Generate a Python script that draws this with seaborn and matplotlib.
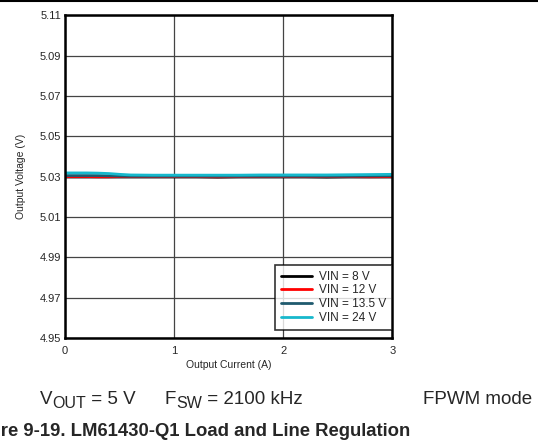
import numpy as np
import pandas as pd
import seaborn as sns
import matplotlib.pyplot as plt

# load current (A)
current = [0.0, 0.1, 0.2, 0.3, 0.4, 0.5, 0.6, 0.8, 1.0, 1.2, 1.4, 1.6, 1.8, 2.0, 2.2, 2.4, 2.6, 2.8, 3.0]
# output voltage (V) per input voltage
v_8 = [5.0298, 5.0298, 5.0298, 5.0298, 5.0298, 5.0298, 5.0298, 5.0298, 5.0298, 5.0298,
       5.0297, 5.0298, 5.0298, 5.0298, 5.0298, 5.0297, 5.0298, 5.0298, 5.0298]
v_12 = [5.0300, 5.0300, 5.0300, 5.0299, 5.0299, 5.0300, 5.0300, 5.0300, 5.0300, 5.0300,
        5.0299, 5.0300, 5.0300, 5.0300, 5.0300, 5.0300, 5.0300, 5.0299, 5.0300]
v_135 = [5.0305, 5.0305, 5.0305, 5.0305, 5.0304, 5.0303, 5.0302, 5.0302, 5.0302, 5.0302,
         5.0302, 5.0302, 5.0302, 5.0302, 5.0302, 5.0302, 5.0302, 5.0303, 5.0304]
v_24 = [5.0318, 5.0318, 5.0318, 5.0317, 5.0315, 5.0311, 5.0308, 5.0307, 5.0307, 5.0307,
        5.0307, 5.0307, 5.0308, 5.0308, 5.0308, 5.0308, 5.0309, 5.0310, 5.0311]
series = ["VIN = 8 V", "VIN = 12 V", "VIN = 13.5 V", "VIN = 24 V"]
colors = ["#000000", "#ff0000", "#1f5a6e", "#17b8cc"]

df = pd.DataFrame({
    "current": current * 4,
    "voltage": v_8 + v_12 + v_135 + v_24,
    "vin": sum([[s] * len(current) for s in series], []),
})

sns.set_style("white")
plt.rcParams['font.family'] = ['Liberation Sans', 'DejaVu Sans']

fig = plt.figure(figsize=(5.38, 4.47), dpi=100)
ax = fig.add_axes([0.121, 0.244, 0.608, 0.722])
sns.lineplot(data=df, x="current", y="voltage", hue="vin", palette=colors,
             hue_order=series, linewidth=2, ax=ax)

ax.set_xlim(0, 3)
ax.set_ylim(4.95, 5.11)
ax.set_xticks([0, 1, 2, 3])
yt = np.arange(4.95, 5.1101, 0.02)
ax.set_yticks(yt)
ax.set_yticklabels([f"{v:.2f}" for v in yt])
ax.grid(True, color="#444444", linewidth=0.9)
ax.tick_params(axis="both", labelsize=8, length=0, pad=3)
ax.tick_params(axis="x", pad=6)
for sp in ax.spines.values():
    sp.set_color("black")
    sp.set_linewidth(1.8)
ax.set_xlabel("Output Current (A)", fontsize=7.5, labelpad=3)
ax.set_ylabel("Output Voltage (V)", fontsize=7.5, labelpad=10)

leg = ax.legend(loc="lower right", bbox_to_anchor=(1.0, 0.025), fontsize=8.5,
                frameon=True, fancybox=False, borderaxespad=0.0, handlelength=2.6,
                labelspacing=0.15, borderpad=0.5, handletextpad=0.6)
leg.get_frame().set_edgecolor("black")
leg.get_frame().set_linewidth(1.2)
for line in leg.get_lines():
    line.set_linewidth(2)

fig.add_artist(plt.Line2D([0, 1], [0.998, 0.998], color="black", linewidth=1.5))

renderer = fig.canvas.get_renderer()


def text_run(x_px, y_px, pieces, weight="normal"):
    # pieces: (text, fontsize, vertical shift in px); x_px/y_px from top-left
    x = x_px
    for txt, size, dy in pieces:
        t = fig.text(x / 538, 1 - (y_px + dy) / 447, txt, fontsize=size,
                     fontweight=weight, va="baseline", ha="left")
        x += t.get_window_extent(renderer).width
    return x


base = 404
text_run(40, base, [("V", 13.5, 0), ("OUT", 11.5, 4), (" = 5 V", 13.5, 0)])
text_run(165, base, [("F", 13.5, 0), ("SW", 11.5, 4), (" = 2100 kHz", 13.5, 0)])
fig.text(532 / 538, 1 - base / 447, "FPWM mode", fontsize=13.5, va="baseline", ha="right")

# bold caption, cropped on the left like the reference
pre = fig.text(0, 0, "Figu", fontsize=13.3, fontweight="bold")
w_pre = pre.get_window_extent(renderer).width
pre.remove()
text_run(-w_pre + 1, 436, [("Figure 9-19. LM61430-Q1 Load and Line Regulation", 13.3, 0)],
         weight="bold")

fig.savefig("out.png", dpi=100)
